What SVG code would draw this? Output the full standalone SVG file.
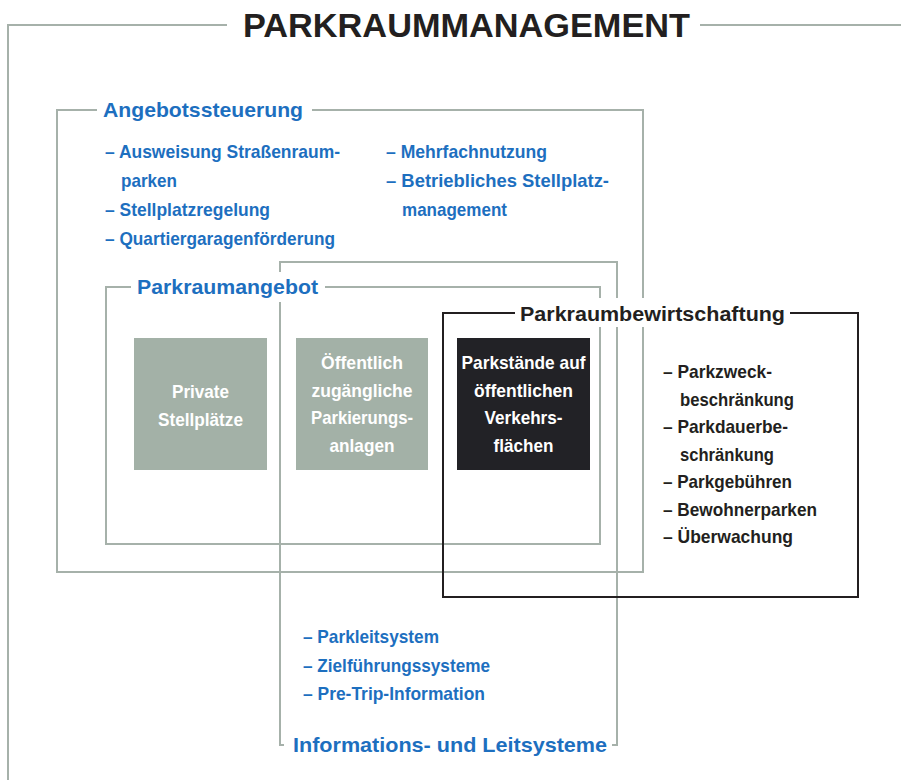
<svg xmlns="http://www.w3.org/2000/svg" width="901" height="780" viewBox="0 0 901 780">
  <style>
    text { font-family: "Liberation Sans", Arial, sans-serif; font-weight: bold; }
    .frame { fill: none; stroke: #a6b1aa; stroke-width: 2; }
    .frame-dark { fill: none; stroke: #231f20; stroke-width: 2; }
    .blue { fill: #1d6fbf; }
    .dark { fill: #231f20; }
    .item { font-size: 19px; }
    .head { font-size: 21px; }
    .tile-grey { fill: #a3b1a7; }
    .tile-dark { fill: #222226; }
    .tile-text { fill: #ffffff; font-size: 19px; text-anchor: middle; }
    .knock { fill: #ffffff; }
  </style>

  <rect width="901" height="780" fill="#ffffff"/>

  <!-- outer frame: Parkraummanagement -->
  <g id="parkraummanagement">
    <path class="frame" d="M227,25 H8 V780 M700,25 H901"/>
    <text class="dark" x="243" y="37" font-size="33" textLength="447" lengthAdjust="spacingAndGlyphs">PARKRAUMMANAGEMENT</text>
  </g>

  <!-- Angebotssteuerung -->
  <g id="angebotssteuerung">
    <path class="frame" d="M97,110 H57 V572 H643 V110 H312"/>
    <text class="blue head" x="103" y="117" textLength="200" lengthAdjust="spacingAndGlyphs">Angebotssteuerung</text>
    <g class="blue item">
      <text x="105" y="158" textLength="235" lengthAdjust="spacingAndGlyphs">– Ausweisung Straßenraum-</text>
      <text x="121" y="187" textLength="56" lengthAdjust="spacingAndGlyphs">parken</text>
      <text x="105" y="216" textLength="165" lengthAdjust="spacingAndGlyphs">– Stellplatzregelung</text>
      <text x="105" y="245" textLength="230" lengthAdjust="spacingAndGlyphs">– Quartiergaragenförderung</text>
      <text x="386" y="158" textLength="161" lengthAdjust="spacingAndGlyphs">– Mehrfachnutzung</text>
      <text x="386" y="187" textLength="223" lengthAdjust="spacingAndGlyphs">– Betriebliches Stellplatz-</text>
      <text x="402" y="216" textLength="105" lengthAdjust="spacingAndGlyphs">management</text>
    </g>
  </g>

  <!-- Informations- und Leitsysteme -->
  <g id="informationssysteme">
    <path class="frame" d="M284,745 H280 V262 H617 V745 H612"/>
    <g class="blue item">
      <text x="303" y="643" textLength="136" lengthAdjust="spacingAndGlyphs">– Parkleitsystem</text>
      <text x="303" y="672" textLength="187" lengthAdjust="spacingAndGlyphs">– Zielführungssysteme</text>
      <text x="303" y="700" textLength="182" lengthAdjust="spacingAndGlyphs">– Pre-Trip-Information</text>
    </g>
    <text class="blue head" x="293" y="752" textLength="314" lengthAdjust="spacingAndGlyphs">Informations- und Leitsysteme</text>
  </g>

  <!-- Parkraumangebot -->
  <g id="parkraumangebot">
    <path class="frame" d="M131,287 H106 V544 H600 V287 H325"/>
    <rect class="knock" x="131" y="272" width="194" height="30"/>
    <text class="blue head" x="137" y="294" textLength="181" lengthAdjust="spacingAndGlyphs">Parkraumangebot</text>
  </g>

  <g id="tile-private">
    <rect class="tile-grey" x="134" y="338" width="133" height="132"/>
    <text class="tile-text" x="200.5" y="398" textLength="57" lengthAdjust="spacingAndGlyphs">Private</text>
    <text class="tile-text" x="200.5" y="426" textLength="85" lengthAdjust="spacingAndGlyphs">Stellplätze</text>
  </g>

  <g id="tile-oeffentlich">
    <rect class="tile-grey" x="296" y="338" width="132" height="132"/>
    <text class="tile-text" x="362" y="369" textLength="82" lengthAdjust="spacingAndGlyphs">Öffentlich</text>
    <text class="tile-text" x="362" y="397" textLength="101" lengthAdjust="spacingAndGlyphs">zugängliche</text>
    <text class="tile-text" x="362" y="424" textLength="102" lengthAdjust="spacingAndGlyphs">Parkierungs-</text>
    <text class="tile-text" x="362" y="452" textLength="65" lengthAdjust="spacingAndGlyphs">anlagen</text>
  </g>

  <!-- Parkraumbewirtschaftung -->
  <g id="parkraumbewirtschaftung">
    <rect class="knock" x="515" y="298" width="275" height="29"/>
    <path class="frame-dark" d="M515,313 H443 V597 H858 V313 H790"/>
    <text class="dark" x="520" y="321" font-size="20" textLength="265" lengthAdjust="spacingAndGlyphs">Parkraumbewirtschaftung</text>
    <g class="dark item">
      <text x="663" y="378" textLength="109" lengthAdjust="spacingAndGlyphs">– Parkzweck-</text>
      <text x="680" y="406" textLength="114" lengthAdjust="spacingAndGlyphs">beschränkung</text>
      <text x="663" y="433" textLength="125" lengthAdjust="spacingAndGlyphs">– Parkdauerbe-</text>
      <text x="680" y="461" textLength="94" lengthAdjust="spacingAndGlyphs">schränkung</text>
      <text x="663" y="488" textLength="129" lengthAdjust="spacingAndGlyphs">– Parkgebühren</text>
      <text x="663" y="516" textLength="154" lengthAdjust="spacingAndGlyphs">– Bewohnerparken</text>
      <text x="663" y="543" textLength="130" lengthAdjust="spacingAndGlyphs">– Überwachung</text>
    </g>
  </g>

  <g id="tile-parkstaende">
    <rect class="tile-dark" x="457" y="338" width="133" height="132"/>
    <text class="tile-text" x="523.5" y="369" textLength="124" lengthAdjust="spacingAndGlyphs">Parkstände auf</text>
    <text class="tile-text" x="523.5" y="397" textLength="99" lengthAdjust="spacingAndGlyphs">öffentlichen</text>
    <text class="tile-text" x="523.5" y="424" textLength="78" lengthAdjust="spacingAndGlyphs">Verkehrs-</text>
    <text class="tile-text" x="523.5" y="452" textLength="60" lengthAdjust="spacingAndGlyphs">flächen</text>
  </g>

  <g id="connectors"/>
</svg>
